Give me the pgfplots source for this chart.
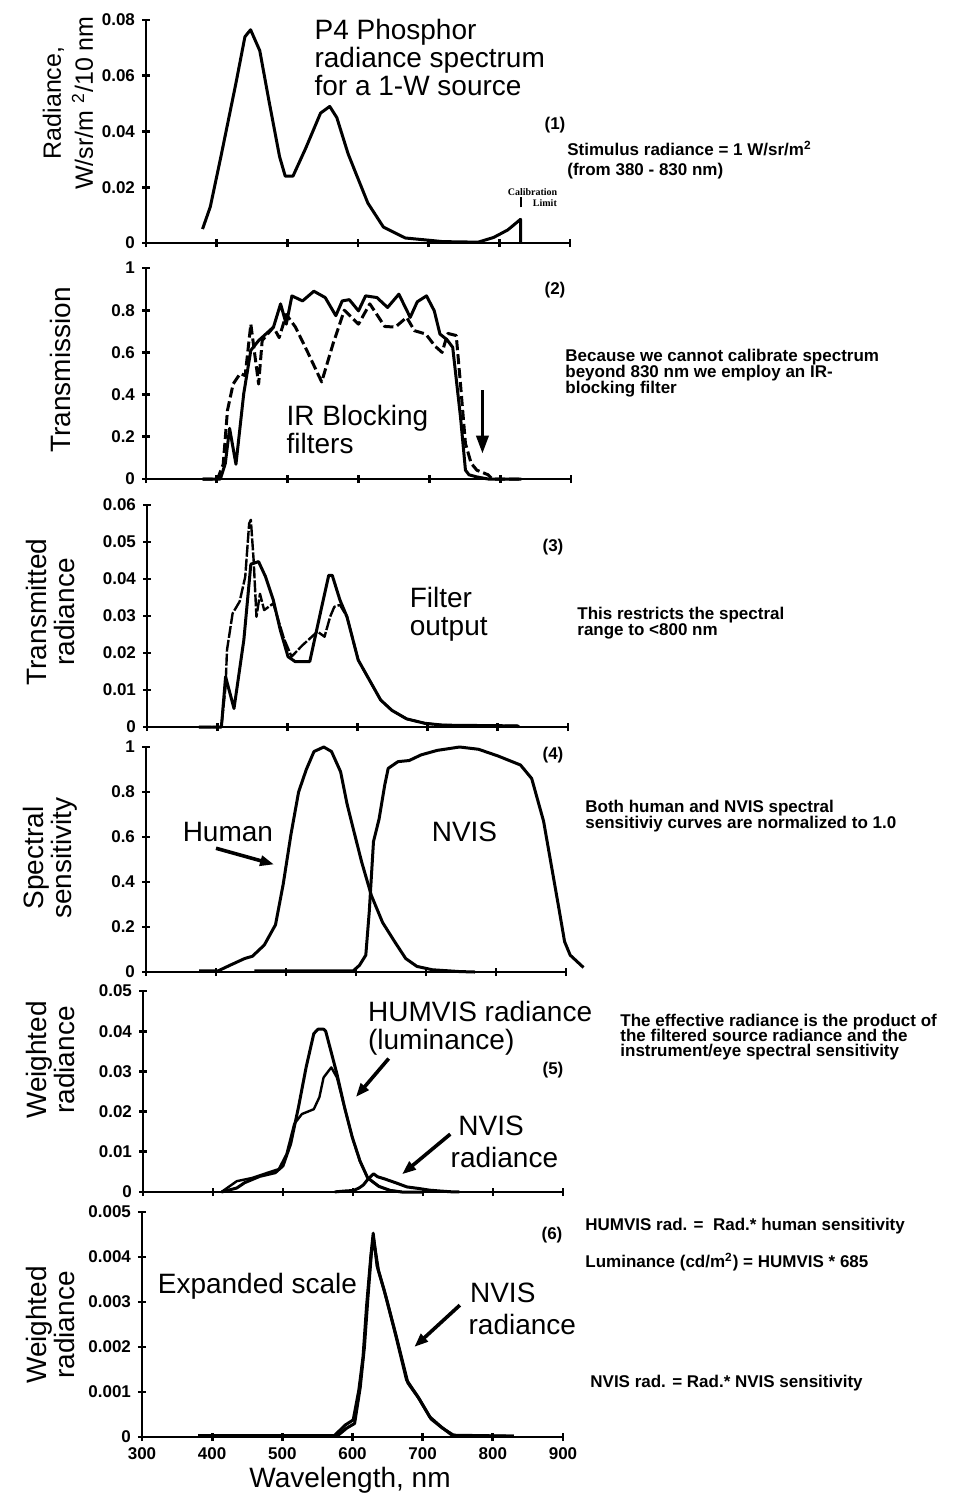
\documentclass[border=0pt]{standalone}
\usepackage{fontspec}
\setmainfont{Liberation Sans}
\newfontfamily\calfont{Liberation Serif}
\usepackage{pgfplots}
\pgfplotsset{compat=1.18}
\usetikzlibrary{arrows.meta}

\newcommand\lbl{\fontsize{14}{14}\selectfont}
\newcommand\nte{\bfseries\fontsize{8.5}{8}\selectfont}

\tikzset{pointer/.style={line width=1.8pt, -{Triangle[length=7pt,width=5pt]}},
  note/.style={font=\nte, anchor=base west, inner sep=0pt}}
\pgfplotsset{
  panel/.style={
    scale only axis, anchor=south west,
    axis x line=bottom, axis y line=left,
    axis line style={line width=1.4pt,-},
    xmin=300, xmax=900, xtick={300,400,...,900}, xticklabels={},
    ymin=0, scaled y ticks=false, scaled x ticks=false,
    tick align=center, major tick length=4pt,
    tick style={line width=1.4pt,black},
    tick label style={font=\bfseries\fontsize{8.5}{9}\selectfont},
    clip=false,
  },
  curve/.style={black, solid, line width=1.5pt, mark=none, line join=round},
  dashfilt/.style={curve, dash pattern=on 5pt off 2pt},
}

\begin{document}
\begin{tikzpicture}
\path[use as bounding box, x=0.5pt, y=-0.5pt] (0,0) rectangle (953,1500);

% (1) source spectrum
\begin{axis}[panel, at={(73pt,-121.5pt)}, width=212pt, height=111.5pt,
  ymax=0.08, ytick={0,0.02,0.04,0.06,0.08}, yticklabels={0,0.02,0.04,0.06,0.08}]
\addplot[curve] coordinates {(380,0.005)(391,0.013)(406,0.031)(427,0.057)(440,0.074)(448,0.0765)
 (461,0.069)(474,0.051)(489,0.031)(497,0.024)(508,0.024)(526,0.034)(547,0.0466)(560,0.049)
 (570,0.045)(586,0.032)(597,0.025)(614,0.0143)(636,0.0057)(667,0.0018)(700,0.001)(720,0.0005)
 (770,0.0003)(792,0.002)(812,0.0047)(830,0.0085)(830,0)};
\node[font=\lbl, align=left, anchor=north west, inner sep=0pt] at (axis cs:538,0.0805)
  {P4 Phosphor\\radiance spectrum\\for a 1-W source};
\draw[line width=1pt] (axis cs:831,0.0128) -- (axis cs:831,0.0165);
\node[font=\calfont\bfseries\fontsize{5}{5}\selectfont, inner sep=0pt] at (axis cs:847,0.0183) {Calibration};
\node[font=\calfont\bfseries\fontsize{5}{5}\selectfont, inner sep=0pt, anchor=west] at (axis cs:847,0.0145) {Limit};
\end{axis}

% (2) filter transmission
\begin{axis}[panel, at={(73pt,-239.5pt)}, width=212.5pt, height=105.5pt,
  ymax=1, ytick={0,0.2,0.4,0.6,0.8,1}, yticklabels={0,0.2,0.4,0.6,0.8,1}]
\addplot[curve] coordinates {(380,0)(405,0)(412,0.074)(418,0.24)(427,0.07)(438,0.405)(448,0.61)
 (459,0.656)(480,0.72)(490,0.83)(498,0.734)(506,0.868)(521,0.844)(537,0.89)(553,0.86)
 (568,0.774)(577,0.844)(587,0.85)(600,0.797)(610,0.868)(626,0.86)(641,0.813)(657,0.876)
 (673,0.766)(683,0.84)(696,0.868)(707,0.797)(715,0.687)(725,0.66)(733,0.624)(744,0.294)
 (751,0.042)(756,0.02)(767,0.01)(783,0)(830,0)};
\addplot[dashfilt] coordinates {(380,0)(401,0)(409,0.07)(415,0.325)(423,0.45)(433,0.5)
 (440,0.49)(448,0.734)(459,0.45)(464,0.656)(480,0.72)(488,0.67)(498,0.78)(511,0.72)
 (527,0.61)(548,0.46)(564,0.64)(580,0.8)(600,0.734)(616,0.83)(637,0.723)(652,0.72)
 (668,0.766)(679,0.703)(695,0.687)(708,0.63)(718,0.6)(726,0.69)(738,0.68)(744,0.45)
 (751,0.168)(759,0.075)(767,0.042)(783,0.02)(789,0)(830,0)};
\node[font=\lbl, align=left, anchor=north west, inner sep=0pt] at (axis cs:498,0.35)
  {IR Blocking\\filters};
\draw[line width=1.8pt, -{Triangle[length=9pt,width=6pt]}] (axis cs:775,0.42) -- (axis cs:775,0.12);
\end{axis}

% (3) transmitted radiance
\begin{axis}[panel, at={(73.5pt,-363.5pt)}, width=210.5pt, height=111pt,
  ymax=0.06, ytick={0,0.01,0.02,0.03,0.04,0.05,0.06},
  yticklabels={0,0.01,0.02,0.03,0.04,0.05,0.06}]
\addplot[curve] coordinates {(374,0)(406,0)(412,0.0136)(417,0.01)(424,0.005)(438,0.0235)(448,0.044)
 (459,0.0447)(469,0.0406)(480,0.0343)(490,0.0262)(501,0.019)(511,0.0177)(532,0.0177)
 (548,0.0316)(559,0.041)(564,0.041)(575,0.0343)(585,0.0298)(601,0.0181)(617,0.0127)
 (633,0.0073)(649,0.0045)(670,0.0022)(696,0.001)(722,0.0005)(828,0.0003)(830,0)};
\addplot[curve, line width=1.2pt, dash pattern=on 6pt off 1pt] coordinates {(374,0)(406,0)
 (412,0.011)(414,0.0208)(422,0.0307)(432,0.0339)(440,0.0406)(445.6,0.055)(448,0.056)
 (452,0.045)(456,0.0298)(461,0.036)(467,0.0316)(480,0.0334)(495,0.024)(506,0.019)
 (521,0.022)(543,0.0258)(553,0.0244)(561,0.0298)(567,0.0325)(575,0.033)(585,0.0298)
 (601,0.0181)(617,0.0127)(633,0.0073)(649,0.0045)(670,0.0022)(696,0.001)(722,0.0005)
 (828,0.0003)(830,0)};
\node[font=\lbl, align=left, anchor=north west, inner sep=0pt] at (axis cs:674,0.0378)
  {Filter\\output};
\end{axis}

% (4) spectral sensitivity
\begin{axis}[panel, at={(73pt,-486pt)}, width=210pt, height=112.5pt,
  ymax=1, ytick={0,0.2,0.4,0.6,0.8,1}, yticklabels={0,0.2,0.4,0.6,0.8,1}]
\addplot[curve] coordinates {(376,0.005)(403,0.005)(420,0.03)(441,0.06)(452,0.07)(469,0.12)
 (485,0.21)(496,0.39)(507,0.61)(518,0.80)(529,0.90)(540,0.98)(554,1.0)(565,0.98)(578,0.89)
 (587,0.75)(595,0.65)(608,0.49)(622,0.34)(638,0.22)(655,0.136)(671,0.06)(687,0.025)
 (709,0.01)(748,0.002)(770,0)};
\addplot[curve] coordinates {(455,0.005)(596,0.005)(605,0.03)(614,0.075)(619,0.27)(625,0.58)
 (633,0.68)(641,0.83)(646,0.905)(660,0.935)(676,0.94)(693,0.965)(716,0.985)(748,1.0)
 (775,0.99)(803,0.96)(835,0.92)(851,0.86)(868,0.67)(879,0.475)(890,0.28)(898,0.135)
 (906,0.075)(925,0.02)};
\node[font=\lbl] at (axis cs:417,0.624) {Human};
\node[font=\lbl] at (axis cs:755,0.624) {NVIS};
\draw[pointer] (axis cs:400,0.55) -- (axis cs:483,0.478);
\end{axis}

% (5) weighted radiance
\begin{axis}[panel, at={(71.5pt,-596pt)}, width=210pt, height=100.5pt,
  ymax=0.05, ytick={0,0.01,0.02,0.03,0.04,0.05}, yticklabels={0,0.01,0.02,0.03,0.04,0.05}]
\addplot[curve] coordinates {(412,0)(434,0.001)(445,0.0023)(467,0.0039)(489,0.0048)(500,0.0065)
 (511,0.012)(522,0.021)(533,0.031)(544,0.0394)(550,0.0405)(558,0.0405)(561,0.040)
 (577,0.0294)(588,0.021)(599,0.0136)(610,0.0077)(621,0.0035)(637,0.0014)(653,0.0004)
 (670,0)(700,0)};
\addplot[curve, line width=1.2pt] coordinates {(412,0)(434,0.0027)(456,0.0035)(478,0.0048)
 (494,0.0057)(505,0.0094)(516,0.0169)(527,0.0194)(544,0.0206)(552,0.0236)(558,0.0285)
 (569,0.031)(577,0.0285)(588,0.021)(599,0.0136)(610,0.0077)(621,0.0035)(637,0.0014)
 (653,0.0004)(670,0)};
\addplot[curve] coordinates {(574,0.00003)(590,0.00027)(601,0.00038)(609,0.00104)(615,0.00178)
 (620,0.0029)(626,0.004)(629.5,0.00453)(635,0.0038)(645,0.00327)(661,0.0023)(677,0.00127)
 (693,0.0009)(710,0.00045)(726,0.00023)(741,0.00005)(752,0.00002)};
\node[font=\lbl, align=left, anchor=north west, inner sep=0pt] at (axis cs:621,0.0475)
  {HUMVIS radiance\\(luminance)};
\node[font=\lbl, anchor=west, inner sep=0pt] at (axis cs:750,0.0165) {NVIS};
\node[font=\lbl, anchor=west, inner sep=0pt] at (axis cs:739,0.0086) {radiance};
\draw[pointer] (axis cs:651,0.0332) -- (axis cs:604,0.0236);
\draw[pointer] (axis cs:739,0.0144) -- (axis cs:670,0.0044);
\end{axis}

% (6) NVIS weighted radiance, expanded scale
\begin{axis}[panel, at={(71pt,-718.5pt)}, width=210.5pt, height=112.5pt,
  ymax=0.005, ytick={0,0.001,0.002,0.003,0.004,0.005},
  yticklabels={0,0.001,0.002,0.003,0.004,0.005},
  xticklabels={300,400,500,600,700,800,900}]
\addplot[curve] coordinates {(380,0.00003)(574,0.00003)(590,0.00027)(601,0.00038)(609,0.00104)
 (615,0.00178)(620,0.0029)(626,0.004)(629.5,0.00453)(635,0.0038)(645,0.00327)(661,0.0023)
 (677,0.00127)(693,0.0009)(710,0.00045)(726,0.00023)(741,0.00005)(752,0.00002)(830,0.00002)};
\addplot[curve] coordinates {(380,0.00002)(578,0.00002)(592,0.0002)(603,0.0003)(611,0.0011)
 (617,0.002)(622,0.0031)(627,0.0041)(630,0.0044)(637,0.0037)(648,0.0031)(663,0.0022)
 (679,0.0012)(695,0.00085)(712,0.0004)(728,0.0002)(744,0.00004)(830,0.00002)};
\node[font=\lbl, anchor=west, inner sep=0pt] at (axis cs:322,0.00334) {Expanded scale};
\node[font=\lbl, anchor=west, inner sep=0pt] at (axis cs:767,0.0032) {NVIS};
\node[font=\lbl, anchor=west, inner sep=0pt] at (axis cs:765,0.00249) {radiance};
\draw[pointer] (axis cs:753,0.00293) -- (axis cs:688,0.002);
\end{axis}

% axis titles and side notes
\begin{scope}[x=0.5pt, y=-0.5pt]
\node[font=\fontsize{12.5}{16}\selectfont, rotate=90, align=center] at (68,103) {Radiance,\\W/sr/m \textsuperscript{2}/10 nm};
\node[font=\lbl, rotate=90] at (60,370) {Transmission};
\node[font=\lbl, rotate=90, align=center] at (50,612) {Transmitted\\radiance};
\node[font=\lbl, rotate=90, align=center] at (50,858) {Spectral\\sensitivity};
\node[font=\lbl, rotate=90, align=center] at (50,1060) {Weighted\\radiance};
\node[font=\lbl, rotate=90, align=center] at (50,1325) {Weighted\\radiance};
\node[font=\lbl] at (350,1480) {Wavelength, nm};

\node[font=\nte] at (555,125) {(1)};
\node[note] at (567,155) {Stimulus radiance = 1 W/sr/m\textsuperscript{2}};
\node[note] at (567,175) {(from 380 - 830 nm)};

\node[font=\nte] at (555,290) {(2)};
\node[note] at (565,361) {Because we cannot calibrate spectrum};
\node[note] at (565,377) {beyond 830 nm we employ an IR-};
\node[note] at (565,393) {blocking filter};

\node[font=\nte] at (553,547) {(3)};
\node[note] at (577,619) {This restricts the spectral};
\node[note] at (577,635) {range to <800 nm};

\node[font=\nte] at (553,755) {(4)};
\node[note] at (585,812) {Both human and NVIS spectral};
\node[note] at (585,828) {sensitiviy curves are normalized to 1.0};

\node[font=\nte] at (553,1070) {(5)};
\node[note] at (620,1026) {The effective radiance is the product of};
\node[note] at (620,1041) {the filtered source radiance and the};
\node[note] at (620,1056) {instrument/eye spectral sensitivity};

\node[font=\nte] at (552,1235) {(6)};
\node[note] at (585,1230) {HUMVIS rad. =\ \ Rad.* human sensitivity};
\node[note] at (585,1267) {Luminance (cd/m\textsuperscript{2}) = HUMVIS * 685};
\node[note] at (590,1387) {NVIS rad. = Rad.* NVIS sensitivity};
\end{scope}
\end{tikzpicture}
\end{document}
